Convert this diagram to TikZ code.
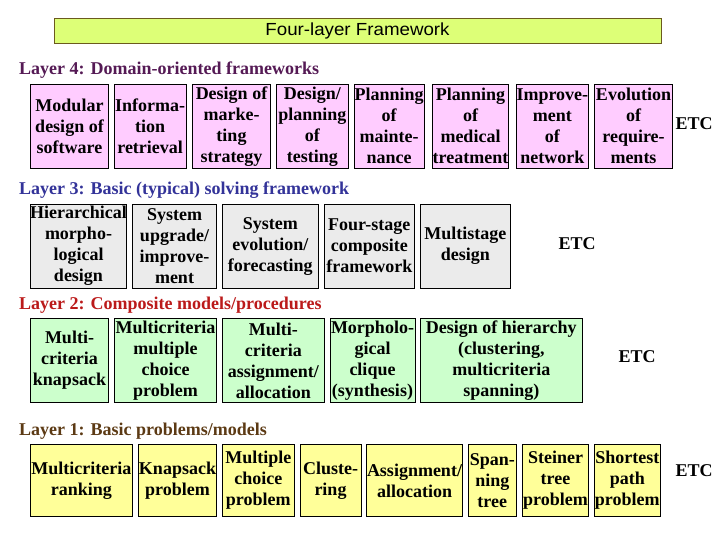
\documentclass[tikz,border=0pt]{standalone}
\usepackage{fontspec}
\setmainfont{Liberation Serif}
\newfontfamily\titlefont{Liberation Sans}
\definecolor{titlefill}{HTML}{DDFF77}
\definecolor{titledraw}{HTML}{6B5A1E}
\definecolor{fillfour}{HTML}{FFCCFF}
\definecolor{fillthree}{HTML}{EBEBEB}
\definecolor{filltwo}{HTML}{CCFFCC}
\definecolor{fillone}{HTML}{FFFF99}
\definecolor{labfour}{HTML}{551A55}
\definecolor{labthree}{HTML}{333399}
\definecolor{labtwo}{HTML}{BB1A1A}
\definecolor{labone}{HTML}{5C3A14}
\tikzset{
  cell/.style={draw=black, line width=0.9pt, inner sep=0pt, align=center,
    font=\bfseries\fontsize{18}{21}\selectfont},
  rowfour/.style={cell, fill=fillfour},
  rowthree/.style={cell, fill=fillthree},
  rowtwo/.style={cell, fill=filltwo},
  rowone/.style={cell, fill=fillone},
  layerlab/.style={anchor=base west, inner sep=0pt, font=\bfseries\fontsize{18}{21}\selectfont},
  etcmark/.style={inner sep=0pt, font=\bfseries\fontsize{18}{21}\selectfont},
  titlebox/.style={draw=titledraw, line width=0.8pt, fill=titlefill, inner sep=0pt,
    font=\titlefont\fontsize{17.5}{20}\selectfont}
}
\newcommand\cellbox[7]{%
  \node[#1, minimum width={(#5-#3)*1pt}, minimum height={(#6-#4)*1pt}]
    (#2) at ({(#3+#5)/2},{(#4+#6)/2}) {#7};}
\begin{document}
\begin{tikzpicture}[x=1pt,y=-1pt]
\useasboundingbox (0,0) rectangle (720,540);
\node[titlebox, minimum width=607pt, minimum height=25pt] (title) at (357.5,30.5)
  {\scalebox{1.07}[1]{Four-layer Framework}};

% Layer 4
\node[layerlab, text=labfour] (l4) at (19,75) {Layer 4: Domain-oriented frameworks};
\cellbox{rowfour}{a1}{30.3}{84.3}{108.7}{168.3}{Modular\\design of\\software}
\cellbox{rowfour}{a2}{114.3}{84.3}{186}{168.3}{Informa-\\tion\\retrieval}
\cellbox{rowfour}{a3}{192.3}{84.3}{270.7}{168.3}{Design of\\marke-\\ting\\strategy}
\cellbox{rowfour}{a4}{276.3}{84.3}{348.3}{168.3}{Design/\\planning\\of\\testing}
\cellbox{rowfour}{a5}{354}{84.3}{424.3}{168.3}{Planning\\of\\mainte-\\nance}
\cellbox{rowfour}{a6}{432.3}{84.3}{508.7}{168.3}{Planning\\of\\medical\\treatment}
\cellbox{rowfour}{a7}{516}{84.3}{588.7}{168.3}{Improve-\\ment\\of\\network}
\cellbox{rowfour}{a8}{594.7}{84.3}{672.3}{168.3}{Evolution\\of\\require-\\ments}
\node[etcmark] (e4) at (694,123.5) {ETC};

% Layer 3
\node[layerlab, text=labthree] (l3) at (19,195) {Layer 3: Basic (typical) solving framework};
\cellbox{rowthree}{b1}{30.3}{204}{126.7}{288.3}{Hierarchical\\morpho-\\logical\\design}
\cellbox{rowthree}{b2}{132.3}{204}{216.7}{288.3}{System\\upgrade/\\improve-\\ment}
\cellbox{rowthree}{b3}{222.3}{204}{318.3}{288.3}{System\\evolution/\\forecasting}
\cellbox{rowthree}{b4}{324.3}{204}{414.3}{288.3}{Four-stage\\composite\\framework}
\cellbox{rowthree}{b5}{420.3}{204}{510.3}{288.3}{Multistage\\design}
\node[etcmark] (e3) at (577,244) {ETC};

% Layer 2
\node[layerlab, text=labtwo] (l2) at (19,309) {Layer 2: Composite models/procedures};
\cellbox{rowtwo}{c1}{30.3}{318.7}{108.7}{402.3}{Multi-\\criteria\\knapsack}
\cellbox{rowtwo}{c2}{114.3}{318.7}{216.7}{402.3}{Multicriteria\\multiple\\choice\\problem}
\cellbox{rowtwo}{c3}{222.3}{318.7}{324.3}{402.3}{Multi-\\criteria\\assignment/\\allocation}
\cellbox{rowtwo}{c4}{330}{318.7}{415}{402.3}{Morpholo-\\gical\\clique\\(synthesis)}
\cellbox{rowtwo}{c5}{420.3}{318.7}{582.3}{402.3}{Design of hierarchy\\(clustering,\\multicriteria\\spanning)}
\node[etcmark] (e2) at (637,357) {ETC};

% Layer 1
\node[layerlab, text=labone] (l1) at (19,435) {Layer 1: Basic problems/models};
\cellbox{rowone}{d1}{30.3}{444.3}{132.3}{516.7}{Multicriteria\\ranking}
\cellbox{rowone}{d2}{138.3}{444.3}{216.7}{516.7}{Knapsack\\problem}
\cellbox{rowone}{d3}{222.3}{444.3}{294.3}{516.7}{Multiple\\choice\\problem}
\cellbox{rowone}{d4}{300}{444.3}{361}{516.7}{Cluste-\\ring}
\cellbox{rowone}{d5}{366.7}{444.3}{462.3}{516.7}{Assignment/\\allocation}
\cellbox{rowone}{d6}{468.3}{444.3}{516.3}{516.7}{Span-\\ning\\tree}
\cellbox{rowone}{d7}{522.3}{444.3}{588.7}{516.7}{Steiner\\tree\\problem}
\cellbox{rowone}{d8}{594.3}{444.3}{660.3}{516.7}{Shortest\\path\\problem}
\node[etcmark] (e1) at (694,471) {ETC};
\end{tikzpicture}
\end{document}
